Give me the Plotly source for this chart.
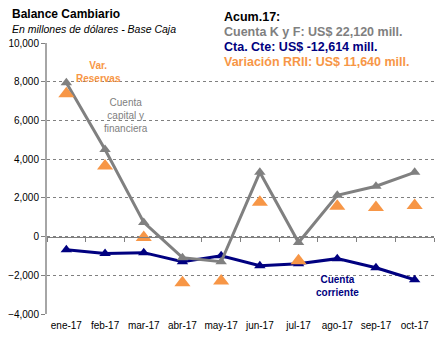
import plotly.graph_objects as go

meses = ["ene-17", "feb-17", "mar-17", "abr-17", "may-17", "jun-17", "jul-17", "ago-17", "sep-17", "oct-17"]
cuenta_kf = [7950, 4500, 730, -1090, -1300, 3320, -310, 2130, 2600, 3320]
cuenta_cte = [-680, -880, -830, -1300, -990, -1510, -1400, -1140, -1610, -2230]
var_reservas = [7380, 3640, -50, -2390, -2290, 1770, -1250, 1560, 1500, 1610]
y_ticks = [-4000, -2000, 0, 2000, 4000, 6000, 8000, 10000]

W, H = 442, 342
L, R, T, B = 47, 8, 43, 28
pw, ph = W - L - R, H - T - B

def px(x):
    return (x - L) / pw

def py(y):
    return (H - B - y) / ph

xi = list(range(len(meses)))
GREY = "#808080"
NAVY = "#000080"
ORANGE = "#F79646"
FONT = "Liberation Sans"

fig = go.Figure()
fig.add_trace(go.Scatter(x=xi, y=cuenta_cte, mode="lines+markers",
                         line=dict(color=NAVY, width=3),
                         marker=dict(symbol="triangle-up", size=10, color=NAVY)))
fig.add_trace(go.Scatter(x=xi, y=cuenta_kf, mode="lines+markers",
                         line=dict(color=GREY, width=3),
                         marker=dict(symbol="triangle-up", size=10, color=GREY)))
fig.add_trace(go.Scatter(x=xi, y=var_reservas, mode="markers",
                         marker=dict(symbol="triangle-up", size=14, color=ORANGE)))
# axis through zero with category boundary ticks
fig.add_trace(go.Scatter(x=[None], y=[None], xaxis="x2", showlegend=False))

fig.update_layout(
    width=W, height=H, margin=dict(l=L, r=R, t=T, b=B),
    paper_bgcolor="white", plot_bgcolor="white", showlegend=False,
    font=dict(family=FONT, size=10, color="#000000"),
    xaxis=dict(range=[-0.5, len(meses) - 0.5], tickvals=xi, ticktext=meses,
               showgrid=False, zeroline=False, showline=False, ticks="",
               tickfont=dict(size=10, family=FONT), ticklabelstandoff=4),
    xaxis2=dict(overlaying="x", matches="x", anchor="free",
                position=(0 - y_ticks[0]) / (y_ticks[-1] - y_ticks[0]),
                tickvals=[i - 0.5 for i in range(len(meses) + 1)],
                ticks="outside", ticklen=4, tickcolor=GREY,
                showticklabels=False, showline=True, linecolor=GREY, linewidth=1,
                showgrid=False, zeroline=False),
    yaxis=dict(range=[y_ticks[0], y_ticks[-1]], tickvals=y_ticks, tickformat=",",
               showgrid=True, gridcolor=GREY, griddash="dot", gridwidth=1,
               zeroline=False, showline=True, linecolor="#A6A6A6", linewidth=2,
               ticks="outside", ticklen=4, tickcolor=GREY,
               tickfont=dict(size=10, family=FONT)),
)

def ann(text, x, y, color, size, bold=False, italic=False, xanchor="left"):
    t = text
    if bold:
        t = "<b>" + t + "</b>"
    if italic:
        t = "<i>" + t + "</i>"
    fig.add_annotation(text=t, x=px(x), y=py(y), xref="paper", yref="paper",
                       xanchor=xanchor, yanchor="middle", showarrow=False,
                       font=dict(color=color, size=size, family=FONT))

ann("Balance Cambiario", 10, 14, "#000000", 12, bold=True)
ann("En millones de dólares - Base Caja", 10, 29, "#000000", 10.5, italic=True)
ann("Acum.17:", 222, 17, "#000000", 12.5, bold=True)
ann("Cuenta K y F: US$ 22,120 mill.", 222, 32, GREY, 12.5, bold=True)
ann("Cta. Cte: US$ -12,614 mill.", 222, 47, NAVY, 12.5, bold=True)
ann("Variación RRII: US$ 11,640 mill.", 222, 62, ORANGE, 12.5, bold=True)

fig.add_annotation(text="<b>Var.<br>Reservas</b>", x=0.83, y=8500, showarrow=False,
                   font=dict(color=ORANGE, size=10, family=FONT))
fig.add_annotation(text="Cuenta<br>capital y<br>financiera", x=1.55, y=6270, showarrow=False,
                   font=dict(color=GREY, size=10, family=FONT))
fig.add_annotation(text="<b>Cuenta<br>corriente</b>", x=7.0, y=-2540, showarrow=False,
                   font=dict(color=NAVY, size=10, family=FONT))

fig.write_html("out.html")
